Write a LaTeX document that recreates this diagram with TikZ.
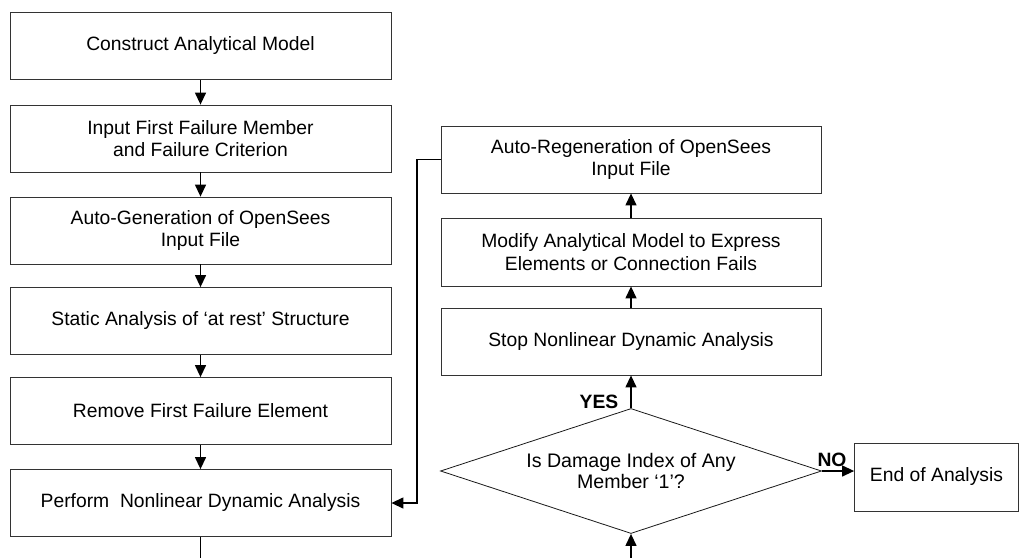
\documentclass[tikz,border=0pt]{standalone}
\usepackage{fontspec}
\setmainfont{Liberation Sans}
\usetikzlibrary{arrows.meta,shapes.geometric}
\tikzset{
  box/.style={draw=black!80, line width=0.8pt, align=center, inner sep=0pt,
    minimum width=381pt, minimum height=67pt, font=\fontsize{19.3}{22.5}\selectfont},
  dec/.style={draw=black!90, line width=0.8pt, shape=diamond, aspect=3.05, align=center, inner sep=0pt,
    minimum width=381pt, minimum height=125pt, font=\fontsize{19.6}{21.5}\selectfont},
  conn/.style={draw=black, line width=1.3pt},
  arr/.style={conn, -{Triangle[length=12pt,width=11pt]}},
  lbl/.style={font=\bfseries\fontsize{19.3}{22}\selectfont, inner sep=0pt}
}
\begin{document}
\begin{tikzpicture}[x=1pt,y=-1pt]
\useasboundingbox (0,0) rectangle (1020,557);
% left column
\node[box] (b1) at (200.5,46) {Construct Analytical Model};
\node[box] (b2) at (200.5,138.5) {Input First Failure Member\\and Failure Criterion};
\node[box] (b3) at (200.5,230.5) {Auto-Generation of OpenSees\\Input File};
\node[box] (b4) at (200.5,321) {Static Analysis of ‘at rest’ Structure};
\node[box] (b5) at (200.5,411) {Remove First Failure Element};
\node[box] (b6) at (200.5,503) {Perform\ \ Nonlinear Dynamic Analysis};
% right column
\node[box, minimum width=380pt] (r1) at (631,159.5) {Auto-Regeneration of OpenSees\\Input File};
\node[box, minimum width=380pt, minimum height=68pt] (r2) at (631,252) {Modify Analytical Model to Express\\Elements or Connection Fails};
\node[box, minimum width=380pt] (r3) at (631,341.5) {Stop Nonlinear Dynamic Analysis};
\node[dec] (d) at (631,471) {Is Damage Index of Any\\Member ‘1’?};
\node[box, minimum width=164pt, minimum height=68pt] (e) at (936.5,477) {End of Analysis};
% labels
\node[lbl] (yes) at (599,402) {YES};
\node[lbl] (no) at (832,460) {NO};
% connectors
\draw[arr] (b1) -- (b2);
\draw[arr] (b2) -- (b3);
\draw[arr] (b3) -- (b4);
\draw[arr] (b4) -- (b5);
\draw[arr] (b5) -- (b6);
\draw[arr] (d) -- (r3);
\draw[arr] (r3) -- (r2);
\draw[arr] (r2) -- (r1);
\draw[arr] (d.east) -- (d.east -| e.west);
\coordinate (c1) at (417,159.5);
\draw[arr] (r1.west) -- (c1) |- (b6.east);
\coordinate (bl) at (200.5,560);
\coordinate (br) at (631,560);
\draw[conn] (b6.south) -- (bl);
\draw[arr] (br) -- (d.south);
\end{tikzpicture}
\end{document}
